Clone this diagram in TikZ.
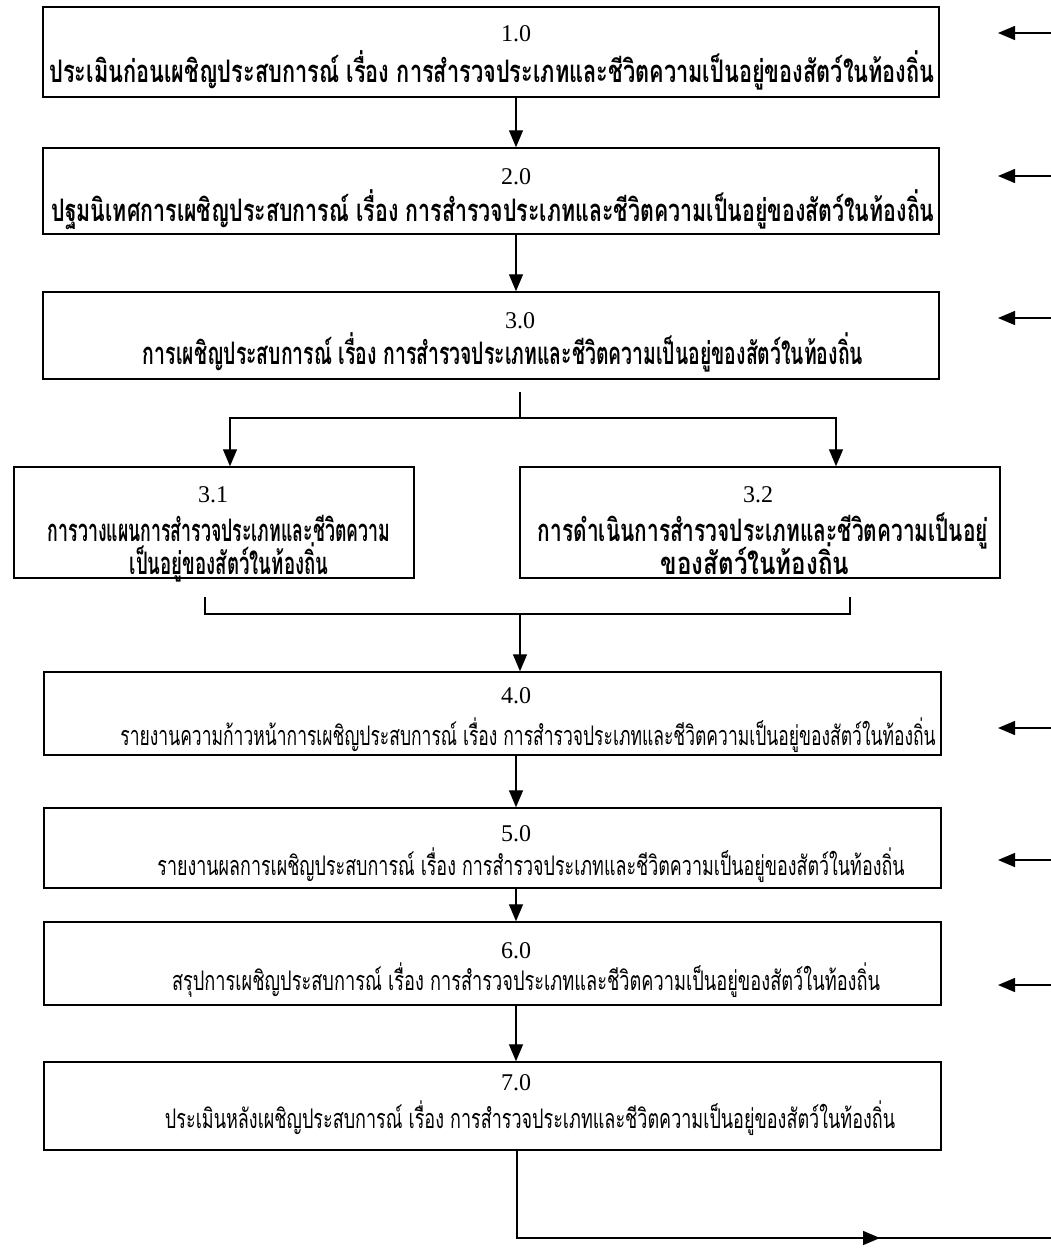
\documentclass[tikz,border=0pt]{standalone}
\usepackage{fontspec}
\usepackage{graphicx}
\usetikzlibrary{arrows.meta}
\setmainfont{Liberation Serif}
\newfontfamily\thaifont[Script=Thai]{Loma}
\newlength\natw
\newcommand\thb{\thaifont\bfseries\fontsize{31}{31}\selectfont}
\newcommand\thr{\thaifont\fontsize{27}{27}\selectfont}
\newcommand\fitB[2]{\resizebox{#1pt}{\height}{\thb #2}}
\newcommand\fitR[2]{\resizebox{#1pt}{\height}{\thr #2}}
\newcommand\likeB[3]{\settowidth{\natw}{\thb #2}\pgfmathsetmacro\sqf{#1/\natw}\scalebox{\sqf}[1]{\thb #3}}
\tikzset{
  box/.style={draw, line width=1.5pt, inner sep=0pt},
  num/.style={anchor=base, inner sep=0pt, font=\fontsize{24}{24}\selectfont},
  txt/.style={anchor=base, inner sep=0pt},
  conn/.style={line width=1.4pt},
  arr/.style={line width=1.4pt, -{Triangle[length=17pt,width=14pt]}},
}
\begin{document}
\begin{tikzpicture}[x=1pt,y=-1pt]
\useasboundingbox (0,0) rectangle (1051,1253);
% boxes
\node[box,minimum width=896pt,minimum height=90pt] (b1) at (491,52) {};
\node[box,minimum width=896pt,minimum height=86pt] (b2) at (491,191) {};
\node[box,minimum width=896pt,minimum height=87pt] (b3) at (491,335.5) {};
\node[box,minimum width=400pt,minimum height=111pt] (b31) at (214,522.5) {};
\node[box,minimum width=480pt,minimum height=111pt] (b32) at (760,522.5) {};
\node[box,minimum width=897pt,minimum height=83pt] (b4) at (492.5,713.5) {};
\node[box,minimum width=897pt,minimum height=80pt] (b5) at (492.5,848) {};
\node[box,minimum width=897pt,minimum height=83pt] (b6) at (492.5,963.5) {};
\node[box,minimum width=897pt,minimum height=88pt] (b7) at (492.5,1106) {};
% texts
\node[num] (n1) at (516,41) {1.0};
\node[txt] (t1) at (492,82) {\fitB{885}{ประเมินก่อนเผชิญประสบการณ์ เรื่อง การสำรวจประเภทและชีวิตความเป็นอยู่ของสัตว์ในท้องถิ่น}};
\node[num] (n2) at (516,184) {2.0};
\node[txt] (t2) at (493,221) {\fitB{883}{ปฐมนิเทศการเผชิญประสบการณ์ เรื่อง การสำรวจประเภทและชีวิตความเป็นอยู่ของสัตว์ในท้องถิ่น}};
\node[num] (n3) at (520,328) {3.0};
\node[txt] (t3) at (503,364) {\fitB{720}{การเผชิญประสบการณ์ เรื่อง การสำรวจประเภทและชีวิตความเป็นอยู่ของสัตว์ในท้องถิ่น}};
\node[num] (n31) at (213,502) {3.1};
\node[txt] (t31a) at (219,541) {\fitB{342}{การวางแผนการสำรวจประเภทและชีวิตความ}};
\node[txt] (t31b) at (229,574) {\likeB{360}{การวางแผนการสำรวจประเภทและชีวิตความ}{เป็นอยู่ของสัตว์ในท้องถิ่น}};
\node[num] (n32) at (758,502) {3.2};
\node[txt] (t32a) at (763,541) {\fitB{450}{การดำเนินการสำรวจประเภทและชีวิตความเป็นอยู่}};
\node[txt] (t32b) at (755,574) {\likeB{520}{การดำเนินการสำรวจประเภทและชีวิตความเป็นอยู่}{ของสัตว์ในท้องถิ่น}};
\node[num] (n4) at (516,703) {4.0};
\node[txt] (t4) at (528,745) {\fitR{815}{รายงานความก้าวหน้าการเผชิญประสบการณ์ เรื่อง การสำรวจประเภทและชีวิตความเป็นอยู่ของสัตว์ในท้องถิ่น}};
\node[num] (n5) at (516,841) {5.0};
\node[txt] (t5) at (531,875) {\fitR{747}{รายงานผลการเผชิญประสบการณ์ เรื่อง การสำรวจประเภทและชีวิตความเป็นอยู่ของสัตว์ในท้องถิ่น}};
\node[num] (n6) at (516,958) {6.0};
\node[txt] (t6) at (526,990) {\fitR{708}{สรุปการเผชิญประสบการณ์ เรื่อง การสำรวจประเภทและชีวิตความเป็นอยู่ของสัตว์ในท้องถิ่น}};
\node[num] (n7) at (516,1090) {7.0};
\node[txt] (t7) at (530,1128) {\fitR{730}{ประเมินหลังเผชิญประสบการณ์ เรื่อง การสำรวจประเภทและชีวิตความเป็นอยู่ของสัตว์ในท้องถิ่น}};
% straight arrows
\coordinate (ax) at (516,0);
\draw[arr] (b1.south -| ax) -- (b2.north -| ax);
\draw[arr] (b2.south -| ax) -- (b3.north -| ax);
\draw[arr] (b4.south -| ax) -- (b5.north -| ax);
\draw[arr] (b5.south -| ax) -- (b6.north -| ax);
\draw[arr] (b6.south -| ax) -- (b7.north -| ax);
% split
\coordinate (tk) at (520,392);
\coordinate (sp) at (520,418);
\coordinate (xl) at (230,0);
\coordinate (xr) at (836,0);
\draw[conn] (tk) -- (sp);
\draw[arr] (sp) -| (b31.north -| xl);
\draw[arr] (sp) -| (b32.north -| xr);
% join
\coordinate (jl) at (205,597);
\coordinate (jr) at (850,597);
\coordinate (jm) at (520,614);
\draw[conn] (jl) |- (jm) -| (jr);
\draw[arr] (jm) -- (b4.north -| jm);
% bottom
\coordinate (bx) at (517,0);
\coordinate (bend) at (517,1238);
\coordinate (bm) at (880,1238);
\coordinate (bedge) at (1051,1238);
\draw[conn] (b7.south -| bx) -- (bend) -- (bedge);
\draw[arr] (bend) -- (bm);
% side arrows
\coordinate (r1s) at (1051,33);   \coordinate (r1e) at (998,33);
\coordinate (r2s) at (1051,176);  \coordinate (r2e) at (998,176);
\coordinate (r3s) at (1051,318);  \coordinate (r3e) at (998,318);
\coordinate (r4s) at (1051,728);  \coordinate (r4e) at (998,728);
\coordinate (r5s) at (1051,860);  \coordinate (r5e) at (998,860);
\coordinate (r6s) at (1051,985);  \coordinate (r6e) at (998,985);
\foreach \i in {1,...,6} {\draw[arr] (r\i s) -- (r\i e);}
\end{tikzpicture}
\end{document}
